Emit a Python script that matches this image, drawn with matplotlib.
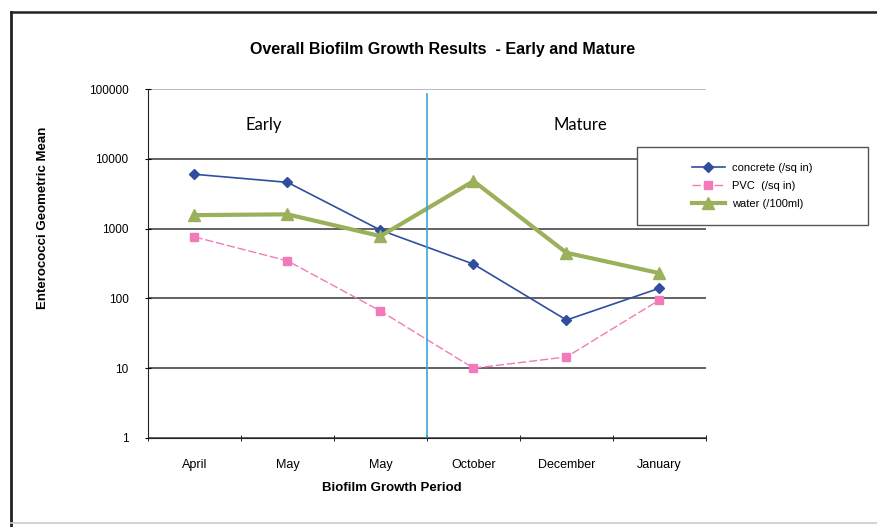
import matplotlib
matplotlib.use("Agg")
import matplotlib.pyplot as plt
from matplotlib.patches import Rectangle
from matplotlib.lines import Line2D
import numpy as np

plt.rcParams['font.family'] = ['Liberation Sans', 'DejaVu Sans']

periods = ["April", "May", "May", "October", "December", "January"]
concrete = [6000, 4600, 950, 310, 49, 140]
pvc = [760, 345, 66, 10, 14.5, 95]
water = [1560, 1600, 780, 4800, 450, 230]

W, H = 878, 527
fig = plt.figure(figsize=(W / 100, H / 100), dpi=100)
ax = fig.add_axes([148 / W, 1 - 438 / H, 558 / W, 349 / H])

x = np.arange(len(periods))
ax.plot(x, concrete, color="#2f4f9e", lw=1.2, marker="D", ms=5, label="concrete (/sq in)")
ax.plot(x, pvc, color="#f27ab8", lw=1.0, ls=(0, (6, 2)), marker="s", ms=6,
        label="PVC  (/sq in)")
ax.plot(x, water, color="#9bb05a", lw=3, marker="^", ms=8, label="water (/100ml)")

ax.set_yscale("log")
ax.set_ylim(1, 100000)
ax.set_xlim(-0.5, 5.5)
ax.set_yticks([1, 10, 100, 1000, 10000, 100000])
ax.set_yticklabels(["1", "10", "100", "1000", "10000", "100000"], fontsize=8.5)
ax.minorticks_off()
ax.set_xticks(x)
ax.set_xticklabels(periods, fontsize=9)
ax.set_xticks(np.arange(-0.5, 6, 1), minor=True)
ax.tick_params(axis="x", which="major", length=0, pad=15)
ax.tick_params(axis="x", which="minor", length=4, direction="inout")
ax.tick_params(axis="y", length=4, direction="inout", pad=12)

ax.grid(axis="y", color="#383838", lw=1.1)
ax.yaxis.get_gridlines()[-1].set_color("#aaaaaa")
ax.set_axisbelow(True)
for s in ["top", "right"]:
    ax.spines[s].set_visible(False)
ax.spines["left"].set_color("#222222")
ax.spines["bottom"].set_color("#222222")

# divider between early and mature growth
ax.plot([2.5, 2.5], [1.05, 85000], color="#3aa6d8", lw=1.2)
ax.text(0.75, 30000, "Early", fontsize=12, ha="center", va="center", family="Lato")
ax.text(4.15, 30000, "Mature", fontsize=12, ha="center", va="center", family="Lato")

ax.set_title("Overall Biofilm Growth Results  - Early and Mature", fontsize=11.5,
             fontweight="bold", pad=25)
ax.title.set_x((443 - 148) / 558)
ax.set_xlabel("Biofilm Growth Period", fontsize=9.5, fontweight="bold")
ax.xaxis.set_label_coords((392 - 148) / 558, -0.125)
ax.set_ylabel("Enterococci Geometric Mean", fontsize=9.5, fontweight="bold")
ax.yaxis.set_label_coords(-0.177, (438 - 218) / 349)

# legend box drawn separately so it can be wider than its entries
box = Rectangle((637 / W, 1 - 225 / H), 231 / W, 78 / H, transform=fig.transFigure,
                facecolor="white", edgecolor="#555555", lw=1.0, zorder=4, clip_on=False)
ax.add_patch(box)
leg = ax.legend(loc="center", bbox_to_anchor=(752 / W, 1 - 186 / H),
                bbox_transform=fig.transFigure, fontsize=8, frameon=False,
                labelspacing=0.75, handlelength=3, handletextpad=0.6)
leg.set_zorder(5)

# outer chart border (scanned page edges)
fig.lines.append(Line2D([11 / W, 11 / W], [0, 1 - 12 / H], transform=fig.transFigure,
                        color="#222222", lw=2))
fig.lines.append(Line2D([11 / W, 1], [1 - 12 / H, 1 - 12 / H], transform=fig.transFigure,
                        color="#222222", lw=1.8))
fig.lines.append(Line2D([11 / W, 1], [1 - 523 / H, 1 - 523 / H], transform=fig.transFigure,
                        color="#cccccc", lw=1.2))

fig.savefig("out.png", dpi=100)
